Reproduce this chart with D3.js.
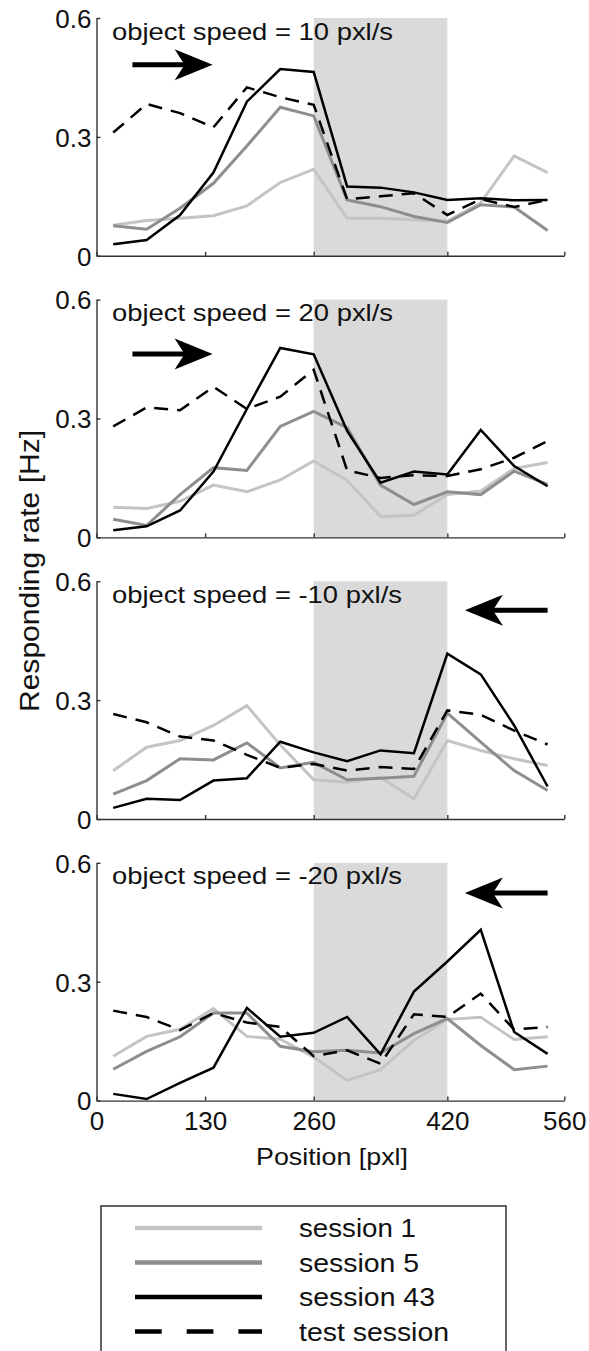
<!DOCTYPE html>
<html>
<head>
<meta charset="utf-8">
<script src="https://cdn.jsdelivr.net/npm/d3@7"></script>
<style>
  html, body { margin: 0; padding: 0; background: #fff; }
  svg { display: block; }
  text { font-family: "Liberation Sans", Arial, Helvetica, sans-serif; fill: #111; }
</style>
</head>
<body>
<svg id="chart" width="589" height="1351"></svg>
<script>
// ---------- data ----------
const positions = [20, 60, 100, 140, 180, 220, 260, 300, 340, 380, 420, 460, 500, 540];
const speedLabels = ["object speed = 10 pxl/s", "object speed = 20 pxl/s",
                     "object speed = -10 pxl/s", "object speed = -20 pxl/s"];
const speedDirections = [1, 1, -1, -1];
const xTickValues = [0, 130, 260, 420, 560];
const yTickValues = [0, 0.3, 0.6];
const trainingZone = [260, 420];
const seriesNames = ["session 1", "session 5", "session 43", "test session"];

const session1 = [
  [0.077, 0.089, 0.095, 0.101, 0.126, 0.185, 0.218, 0.095, 0.095, 0.091, 0.087, 0.134, 0.252, 0.210],
  [0.076, 0.073, 0.091, 0.132, 0.115, 0.145, 0.193, 0.144, 0.053, 0.056, 0.108, 0.117, 0.174, 0.189],
  [0.122, 0.181, 0.198, 0.236, 0.286, 0.187, 0.099, 0.093, 0.105, 0.051, 0.198, 0.173, 0.152, 0.135],
  [0.112, 0.162, 0.180, 0.232, 0.162, 0.155, 0.110, 0.051, 0.078, 0.152, 0.205, 0.210, 0.154, 0.161]
];
const session5 = [
  [0.076, 0.067, 0.120, 0.183, 0.277, 0.375, 0.353, 0.141, 0.124, 0.099, 0.084, 0.129, 0.123, 0.064],
  [0.046, 0.030, 0.108, 0.176, 0.169, 0.280, 0.318, 0.277, 0.132, 0.083, 0.115, 0.108, 0.167, 0.134],
  [0.063, 0.097, 0.152, 0.149, 0.192, 0.129, 0.143, 0.099, 0.103, 0.108, 0.267, 0.194, 0.122, 0.072],
  [0.079, 0.124, 0.161, 0.221, 0.221, 0.137, 0.123, 0.127, 0.120, 0.169, 0.207, 0.139, 0.078, 0.087]
];
const session43 = [
  [0.029, 0.040, 0.103, 0.210, 0.389, 0.471, 0.464, 0.175, 0.172, 0.160, 0.141, 0.145, 0.140, 0.141],
  [0.018, 0.028, 0.068, 0.166, 0.324, 0.478, 0.462, 0.269, 0.138, 0.166, 0.159, 0.271, 0.180, 0.129],
  [0.028, 0.051, 0.048, 0.097, 0.103, 0.195, 0.168, 0.146, 0.173, 0.166, 0.417, 0.365, 0.236, 0.082],
  [0.017, 0.004, 0.045, 0.083, 0.234, 0.161, 0.171, 0.211, 0.117, 0.275, 0.351, 0.431, 0.173, 0.118]
];
const testSession = [
  [0.311, 0.383, 0.360, 0.324, 0.425, 0.400, 0.381, 0.143, 0.150, 0.158, 0.103, 0.143, 0.123, 0.141],
  [0.280, 0.328, 0.321, 0.380, 0.324, 0.355, 0.423, 0.169, 0.150, 0.157, 0.155, 0.172, 0.201, 0.243],
  [0.265, 0.244, 0.208, 0.198, 0.162, 0.129, 0.139, 0.122, 0.131, 0.126, 0.274, 0.263, 0.223, 0.188],
  [0.227, 0.211, 0.178, 0.221, 0.197, 0.186, 0.112, 0.127, 0.093, 0.218, 0.211, 0.270, 0.179, 0.186]
];
// arrow annotation (data coordinates: x start, x tip, y level)
const arrowSpecs = [
  [43, 139, 0.482],
  [43, 139, 0.463],
  [540, 441, 0.527],
  [540, 441, 0.524]
];

// ---------- layout / styles ----------
const styles = [
  { color: "#c4c4c4", width: 3, dash: null },
  { color: "#8e8e8e", width: 3, dash: null },
  { color: "#000000", width: 2.5, dash: null },
  { color: "#000000", width: 2.5, dash: "14,9" }
];
const allSeries = [session1, session5, session43, testSession];

const svg = d3.select("#chart");
const left = 96.5, right = 564.3;
const panelTop0 = 18, panelStep = 281.6, panelH = 237.8;

const x = d3.scaleLinear().domain([0, 560]).range([left, right]);

for (let p = 0; p < 4; p++) {
  const top = panelTop0 + p * panelStep;
  const y = d3.scaleLinear().domain([0, 0.6]).range([top + panelH, top]);
  const g = svg.append("g");

  // shaded region
  g.append("rect")
    .attr("x", x(trainingZone[0])).attr("y", y(0.6))
    .attr("width", x(trainingZone[1]) - x(trainingZone[0]))
    .attr("height", y(0) - y(0.6))
    .attr("fill", "#dadada");

  // lines
  const line = d3.line().x((d, i) => x(positions[i])).y(d => y(d));
  allSeries.forEach((s, k) => {
    g.append("path")
      .datum(s[p])
      .attr("d", line)
      .attr("fill", "none")
      .attr("stroke", styles[k].color)
      .attr("stroke-width", styles[k].width)
      .attr("stroke-linejoin", "miter")
      .attr("stroke-dasharray", styles[k].dash);
  });

  // axes
  const yAxis = d3.axisLeft(y).tickValues(yTickValues)
    .tickFormat(d => d === 0 ? "0" : d3.format(".1f")(d))
    .tickSize(-4).tickSizeOuter(0).tickPadding(5);
  const ya = g.append("g").attr("transform", `translate(${left},0)`).call(yAxis);

  const xAxis = d3.axisBottom(x).tickValues(xTickValues)
    .tickFormat(p === 3 ? (d => String(d)) : () => "")
    .tickSize(-4).tickSizeOuter(0).tickPadding(11);
  const xa = g.append("g").attr("transform", `translate(0,${y(0)})`).call(xAxis);

  [ya, xa].forEach(a => {
    a.select(".domain").attr("stroke", "#333").attr("stroke-width", 1.4);
    a.selectAll(".tick line").attr("stroke", "#333").attr("stroke-width", 1.4);
    a.selectAll(".tick text").attr("font-size", 26)
      .attr("font-family", "'Liberation Sans', Arial, Helvetica, sans-serif").attr("fill", "#111");
  });
  ya.selectAll(".tick text").attr("dy", "0.36em");
  xa.selectAll(".tick text").attr("dy", "0.7em");

  // title
  g.append("text")
    .attr("x", 112).attr("y", top + 21.5)
    .attr("font-size", 24)
    .attr("textLength", speedDirections[p] < 0 ? 290 : 281)
    .attr("lengthAdjust", "spacingAndGlyphs")
    .text(speedLabels[p]);

  // arrow
  const [xs, xt, ay] = arrowSpecs[p];
  const dir = speedDirections[p];
  const tx = x(xt), sx = x(xs), py = y(ay);
  g.append("line")
    .attr("x1", sx).attr("x2", tx - dir * 25)
    .attr("y1", py).attr("y2", py)
    .attr("stroke", "#000").attr("stroke-width", 5);
  g.append("path")
    .attr("d", d3.line()([
      [tx, py],
      [tx - dir * 38, py - 15.5],
      [tx - dir * 28, py],
      [tx - dir * 38, py + 15.5]
    ]) + "Z")
    .attr("fill", "#000");
}

// axis labels
svg.append("text")
  .attr("transform", `translate(39,${571}) rotate(-90)`)
  .attr("text-anchor", "middle")
  .attr("font-size", 27)
  .attr("textLength", 282)
  .attr("lengthAdjust", "spacingAndGlyphs")
  .text("Responding rate [Hz]");

svg.append("text")
  .attr("x", 332).attr("y", 1165)
  .attr("text-anchor", "middle")
  .attr("font-size", 24.5)
  .attr("textLength", 152)
  .attr("lengthAdjust", "spacingAndGlyphs")
  .text("Position [pxl]");

// legend
const lg = svg.append("g");
lg.append("rect")
  .attr("x", 101).attr("y", 1206).attr("width", 405).attr("height", 170)
  .attr("fill", "#fff").attr("stroke", "#333").attr("stroke-width", 1.5);
const legendWidths = [117, 120, 136, 150];
seriesNames.forEach((name, k) => {
  const cy = 1228 + k * 34.5;
  lg.append("line")
    .attr("x1", 135).attr("x2", 262).attr("y1", cy).attr("y2", cy)
    .attr("stroke", styles[k].color)
    .attr("stroke-width", 4.5)
    .attr("stroke-dasharray", styles[k].dash ? "26.7,25" : null);
  lg.append("text")
    .attr("x", 299).attr("y", cy + 9)
    .attr("font-size", 26)
    .attr("textLength", legendWidths[k])
    .attr("lengthAdjust", "spacingAndGlyphs")
    .text(name);
});
</script>
</body>
</html>
